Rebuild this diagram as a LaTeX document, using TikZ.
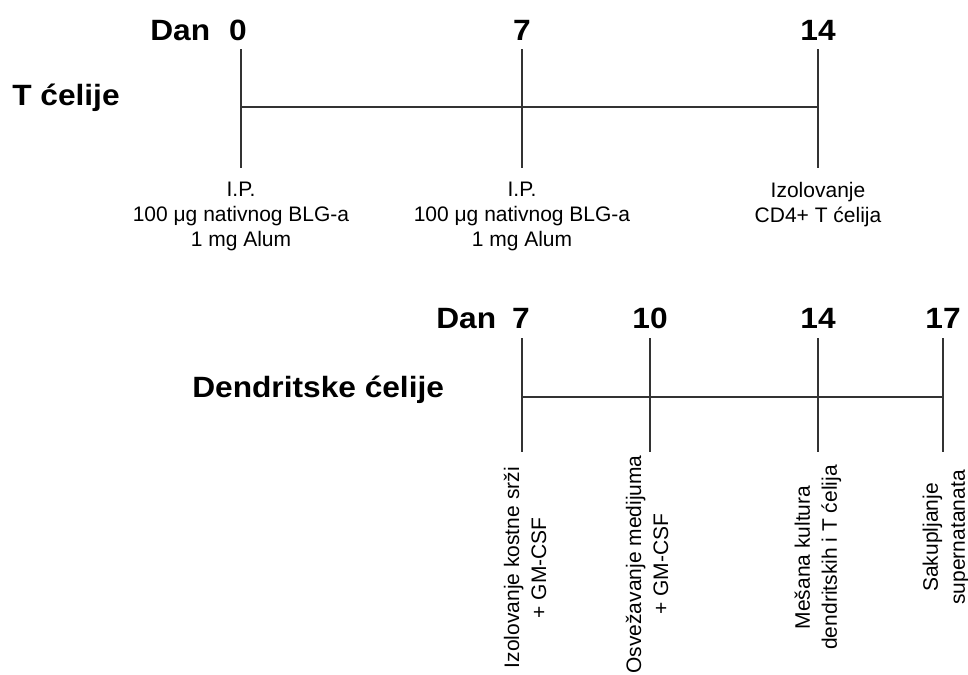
\documentclass[tikz,border=0pt]{standalone}
\usepackage{fontspec}
\setmainfont{Liberation Sans}
\newfontfamily\widebold[FakeStretch=1.08]{Liberation Sans Bold}
\begin{document}
\begin{tikzpicture}[x=0.75pt,y=-0.75pt,
  tl/.style={line width=1.4pt, draw=black!80},
  big/.style={font=\fontsize{22}{26}\selectfont\widebold, inner sep=0pt},
  lab/.style={font=\fontsize{15.75}{18.75}\selectfont, align=center, inner sep=0pt, anchor=north},
  vlab/.style={font=\fontsize{15.75}{20.25}\selectfont, align=center, inner sep=0pt, rotate=90, anchor=east}]
\useasboundingbox (0,0) rectangle (968,675);

% ---------- T cells timeline ----------
\node[big, anchor=base west] (dan1) at (150,40) {Dan};
\node[big, anchor=base] (d0) at (238,40) {0};
\node[big, anchor=base] (d7) at (522,40) {7};
\node[big, anchor=base] (d14) at (818,40) {14};
\node[big, anchor=base west] (tc) at (12,105) {T ćelije};

\coordinate (a0t) at (241,49);  \coordinate (a0b) at (241,168);
\coordinate (a7t) at (522,49);  \coordinate (a7b) at (522,168);
\coordinate (a14t) at (818,49); \coordinate (a14b) at (818,168);
\coordinate (a0m) at (241,107); \coordinate (a14m) at (818,107);
\draw[tl] (a0t) -- (a0b);
\draw[tl] (a7t) -- (a7b);
\draw[tl] (a14t) -- (a14b);
\draw[tl] (a0m) -- (a14m);

\node[lab] (l0) at (241,182) {I.P.\\100 μg nativnog BLG-a\\1 mg Alum};
\node[lab] (l7) at (522,182) {I.P.\\100 μg nativnog BLG-a\\1 mg Alum};
\node[lab] (l14) at (818,182) {Izolovanje\\CD4+ T ćelija};

% ---------- Dendritic cells timeline ----------
\node[big, anchor=base west] (dan2) at (436,328) {Dan};
\node[big, anchor=base] (e7) at (521,328) {7};
\node[big, anchor=base] (e10) at (650,328) {10};
\node[big, anchor=base] (e14) at (818,328) {14};
\node[big, anchor=base] (e17) at (943,328) {17};
\node[big, anchor=base west] (dc) at (192,397) {Dendritske ćelije};

\coordinate (b7t) at (522,338);  \coordinate (b7b) at (522,452);
\coordinate (b10t) at (650,338); \coordinate (b10b) at (650,452);
\coordinate (b14t) at (818,338); \coordinate (b14b) at (818,452);
\coordinate (b17t) at (943,338); \coordinate (b17b) at (943,452);
\coordinate (b7m) at (522,397);  \coordinate (b17m) at (943,397);
\draw[tl] (b7t) -- (b7b);
\draw[tl] (b10t) -- (b10b);
\draw[tl] (b14t) -- (b14b);
\draw[tl] (b17t) -- (b17b);
\draw[tl] (b7m) -- (b17m);

\node[vlab] (v7) at (525,467) {Izolovanje kostne srži\\+ GM-CSF};
\node[vlab] (v10) at (647,455) {Osvežavanje medijuma\\+ GM-CSF};
\node[vlab] (v14) at (818,465) {Mešana kultura\\dendritskih i T ćelija};
\node[vlab] (v17) at (946,470) {Sakupljanje\\supernatanata};
\end{tikzpicture}
\end{document}
